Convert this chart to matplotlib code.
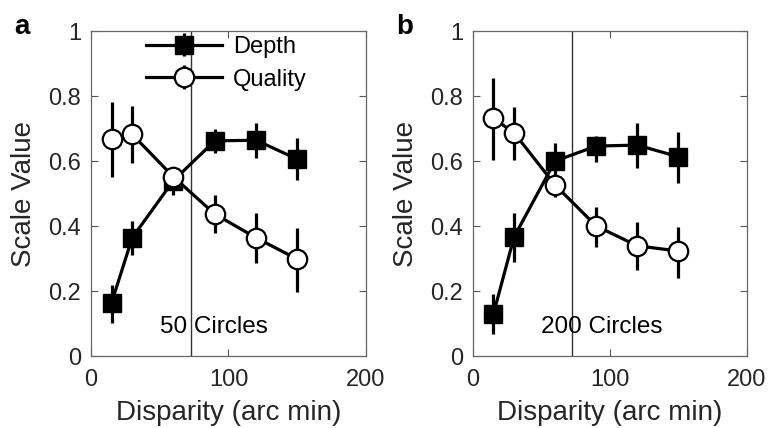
import numpy as np
import matplotlib
matplotlib.use("Agg")
import matplotlib.pyplot as plt

plt.rcParams['font.family'] = ['Liberation Sans', 'DejaVu Sans']

# disparity (arc min)
disparity = [15, 30, 60, 90, 120, 150]

# panel a: 50 circles
depth_a = [0.164, 0.364, 0.54, 0.662, 0.664, 0.606]
depth_a_lo = [0.103, 0.31, 0.495, 0.626, 0.61, 0.542]
depth_a_hi = [0.22, 0.415, 0.58, 0.697, 0.718, 0.672]
quality_a = [0.668, 0.682, 0.551, 0.437, 0.364, 0.298]
quality_a_lo = [0.552, 0.593, 0.52, 0.379, 0.285, 0.196]
quality_a_hi = [0.782, 0.769, 0.58, 0.495, 0.439, 0.395]

# panel b: 200 circles
depth_b = [0.130, 0.366, 0.600, 0.646, 0.649, 0.613]
depth_b_lo = [0.067, 0.29, 0.55, 0.598, 0.579, 0.533]
depth_b_hi = [0.19, 0.441, 0.654, 0.677, 0.716, 0.69]
quality_b = [0.731, 0.687, 0.526, 0.400, 0.339, 0.323]
quality_b_lo = [0.603, 0.603, 0.49, 0.336, 0.265, 0.241]
quality_b_hi = [0.856, 0.767, 0.56, 0.457, 0.413, 0.398]

threshold = 72.5
panel_letters = ['a', 'b']
panel_texts = ['50 Circles', '200 Circles']

txt_col = '#262626'
fig = plt.figure(figsize=(7.69, 4.28), dpi=100)
axes = [fig.add_axes([0.1183, 0.1682, 0.3576, 0.7593]),
        fig.add_axes([0.615, 0.1682, 0.3563, 0.7593])]

panels = [
    (depth_a, depth_a_lo, depth_a_hi, quality_a, quality_a_lo, quality_a_hi),
    (depth_b, depth_b_lo, depth_b_hi, quality_b, quality_b_lo, quality_b_hi),
]

for i, ax in enumerate(axes):
    d, dlo, dhi, q, qlo, qhi = panels[i]
    d = np.array(d); q = np.array(q)
    d_err = [d - np.array(dlo), np.array(dhi) - d]
    q_err = [q - np.array(qlo), np.array(qhi) - q]
    ax.axvline(threshold, color='#333333', lw=1.0, zorder=1)
    ax.errorbar(disparity, d, yerr=d_err, color='k', lw=2.3, elinewidth=2.3,
                capsize=0, marker='s', ms=12.5, mfc='k', mec='k',
                label='Depth', zorder=3)
    ax.errorbar(disparity, q, yerr=q_err, color='k', lw=2.3, elinewidth=2.3,
                capsize=0, marker='o', ms=14, mfc='white', mec='k', mew=1.6,
                label='Quality', zorder=4)
    ax.set_xlim(0, 200)
    ax.set_ylim(0, 1)
    ax.set_xticks([0, 100, 200])
    ax.set_yticks([0, 0.2, 0.4, 0.6, 0.8, 1])
    ax.set_yticklabels(['0', '0.2', '0.4', '0.6', '0.8', '1'])
    ax.tick_params(direction='in', top=True, right=True, length=5, width=0.8,
                   color='#555555', labelsize=17, labelcolor=txt_col, pad=7)
    ax.tick_params(axis='x', pad=9)
    for s in ax.spines.values():
        s.set_color('#666666')
        s.set_linewidth(0.9)
    ax.set_xlabel('Disparity (arc min)', fontsize=20, color=txt_col, labelpad=7)
    ax.set_ylabel('Scale Value', fontsize=20, color=txt_col, labelpad=8)
    ax.text(50, 0.07, panel_texts[i], ha='left',
            va='baseline', fontsize=17.5, color='k')
    ax.text(-0.28, 0.99, panel_letters[i], transform=ax.transAxes,
            fontsize=20, fontweight='bold', color='k', ha='left', va='baseline')

leg = axes[0].legend(loc='upper left', bbox_to_anchor=(0.2, 0.985), frameon=False,
                     fontsize=17, handlelength=3.2, handletextpad=0.5,
                     borderpad=0, borderaxespad=0, labelspacing=0.45)
for t in leg.get_texts():
    t.set_color('k')

fig.savefig('out.png', dpi=100)
